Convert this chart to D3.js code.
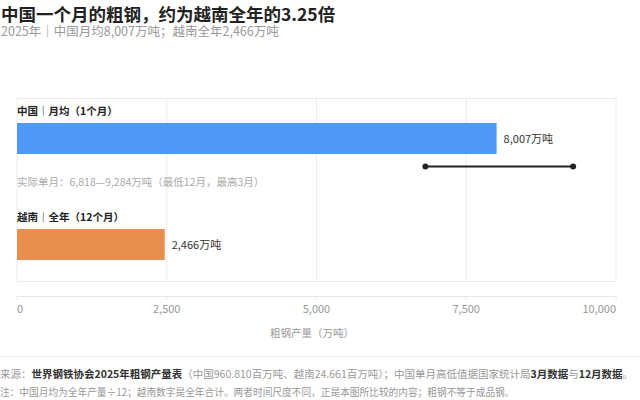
<!DOCTYPE html>
<html><head><meta charset="utf-8">
<script src="https://cdn.jsdelivr.net/npm/d3@7"></script>
<style>
body{margin:0;background:#fff;}
text{font-family:"Noto Sans CJK SC","Noto Sans",sans-serif;}
</style></head>
<body><svg id="c" width="640" height="400"></svg>
<script>
const categories = ["中国｜月均（1个月）", "越南｜全年（12个月）"];
const values = [8007, 2466];
const valueLabels = ["8,007万吨", "2,466万吨"];
const rangeLow = 6818, rangeHigh = 9284;
const rangeNote = "实际单月：6,818—9,284万吨（最低12月，最高3月）";
const ticks = [0, 2500, 5000, 7500, 10000];
const tickLabels = ["0", "2,500", "5,000", "7,500", "10,000"];
const colors = ["#4f98f6", "#e88f4f"];

(function () {
const svg = d3.select("#c");
const x = d3.scaleLinear().domain([0, 10000]).range([17, 616]);
const plotTop = 98, plotBottom = 282;

svg.append("text").attr("x", 1).attr("y", 20.5).attr("font-size", 17.5).attr("font-weight", 700).attr("fill", "#222")
  .text("中国一个月的粗钢，约为越南全年的3.25倍");
svg.append("text").attr("x", 1).attr("y", 36).attr("font-size", 12.5).attr("fill", "#999")
  .text("2025年｜中国月均8,007万吨；越南全年2,466万吨");

// grid
svg.append("g").selectAll("line").data(ticks).join("line")
  .attr("x1", d => x(d)).attr("x2", d => x(d)).attr("y1", plotTop).attr("y2", plotBottom)
  .attr("stroke", "#ececec").attr("stroke-width", 1);
svg.append("line").attr("x1", x(0)).attr("x2", x(10000)).attr("y1", plotTop + 0.5).attr("y2", plotTop + 0.5).attr("stroke", "#ececec");
svg.append("line").attr("x1", x(0)).attr("x2", x(10000)).attr("y1", plotBottom - 0.5).attr("y2", plotBottom - 0.5).attr("stroke", "#ececec");

// labels and bars
const labelY = [115, 221];
const barY = [123, 229];
const barH = 31;
svg.append("g").selectAll("text").data(categories).join("text")
  .attr("x", x(0)).attr("y", (d, i) => labelY[i]).attr("font-size", 10.5).attr("font-weight", 700).attr("fill", "#222")
  .text(d => d);
svg.append("g").selectAll("rect").data(values).join("rect")
  .attr("x", x(0)).attr("y", (d, i) => barY[i]).attr("width", d => x(d) - x(0)).attr("height", barH)
  .attr("fill", (d, i) => colors[i]);
svg.append("g").selectAll("text").data(values).join("text")
  .attr("x", d => x(d) + 7).attr("y", (d, i) => barY[i] + barH / 2 + 4).attr("font-size", 11).attr("fill", "#333")
  .text((d, i) => valueLabels[i]);

// range whisker
const wy = 166.5;
svg.append("line").attr("x1", x(rangeLow)).attr("x2", x(rangeHigh)).attr("y1", wy).attr("y2", wy)
  .attr("stroke", "#222").attr("stroke-width", 1.8);
svg.append("g").selectAll("circle").data([rangeLow, rangeHigh]).join("circle")
  .attr("cx", d => x(d)).attr("cy", wy).attr("r", 3).attr("fill", "#222");
svg.append("text").attr("x", x(0)).attr("y", 186).attr("font-size", 10.5).attr("fill", "#aaa").text(rangeNote);

// axis
const ay = 296;
svg.append("line").attr("x1", x(0)).attr("x2", x(10000)).attr("y1", ay + 0.5).attr("y2", ay + 0.5).attr("stroke", "#e6e6e6");
svg.append("g").selectAll("line").data(ticks).join("line")
  .attr("x1", d => x(d)).attr("x2", d => x(d)).attr("y1", ay).attr("y2", ay + 4).attr("stroke", "#e6e6e6");
svg.append("g").selectAll("text").data(ticks).join("text")
  .attr("x", d => x(d)).attr("y", 313).attr("font-size", 11).attr("fill", "#999")
  .attr("text-anchor", (d, i) => i === 0 ? "start" : (i === ticks.length - 1 ? "end" : "middle"))
  .text((d, i) => tickLabels[i]);
svg.append("text").attr("x", 312).attr("y", 337).attr("font-size", 10.5).attr("fill", "#999").attr("text-anchor", "middle")
  .text("粗钢产量（万吨）");

// footer
svg.append("line").attr("x1", 0).attr("x2", 640).attr("y1", 356.5).attr("y2", 356.5).attr("stroke", "#eeeeee");
const f1 = svg.append("text").attr("x", 0).attr("y", 378).attr("font-size", 10.5).attr("fill", "#999");
f1.append("tspan").text("来源：");
f1.append("tspan").attr("fill", "#333").attr("font-weight", 700).text("世界钢铁协会2025年粗钢产量表");
f1.append("tspan").text("（中国960.810百万吨、越南24.661百万吨）；中国单月高低值据国家统计局");
f1.append("tspan").attr("fill", "#333").attr("font-weight", 700).text("3月数据");
f1.append("tspan").text("与");
f1.append("tspan").attr("fill", "#333").attr("font-weight", 700).text("12月数据");
f1.append("tspan").text("。");
svg.append("text").attr("x", 0).attr("y", 396).attr("font-size", 9.7).attr("fill", "#999")
  .text("注：中国月均为全年产量÷12；越南数字是全年合计。两者时间尺度不同，正是本图所比较的内容；粗钢不等于成品钢。");
})();
</script></body></html>
